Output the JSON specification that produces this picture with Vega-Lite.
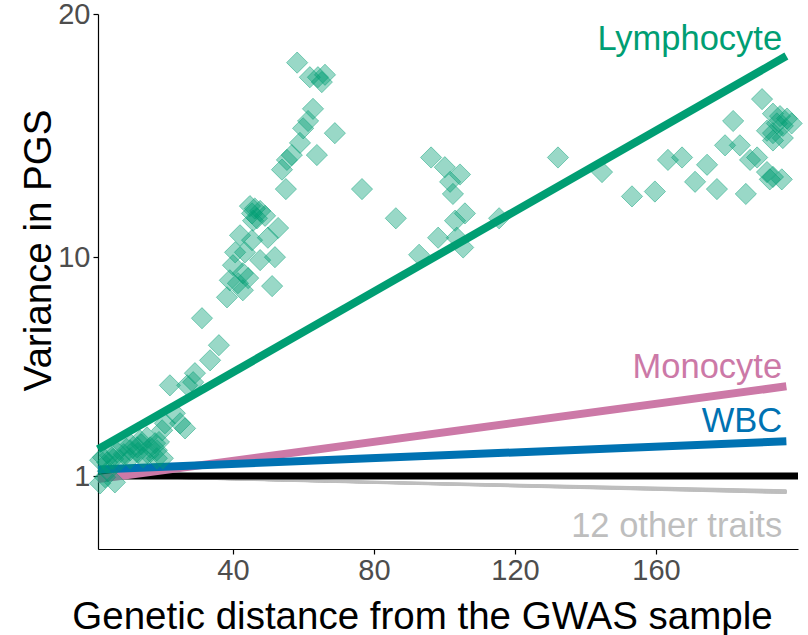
{
  "$schema": "https://vega.github.io/schema/vega-lite/v6.json",
  "width": 700,
  "height": 535,
  "autosize": "none",
  "padding": {"left": 98, "top": 14, "right": 10, "bottom": 86},
  "config": {"view": {"stroke": null}, "font": "Liberation Sans"},
  "datasets": {
    "points": [
      {"x":2.3,"y":0.70},{"x":6.5,"y":0.74},{"x":3.7,"y":0.95},{"x":2.3,"y":1.65},{"x":4.3,"y":1.56},{"x":3.1,"y":1.77},{"x":5.1,"y":1.85},{"x":7.1,"y":1.98},{"x":7.9,"y":1.65},{"x":8.8,"y":2.26},
      {"x":10.8,"y":2.06},{"x":10.8,"y":1.73},{"x":12.8,"y":2.18},{"x":13.6,"y":2.47},{"x":14.5,"y":1.77},{"x":15.6,"y":2.59},{"x":16.5,"y":2.18},{"x":17.9,"y":2.35},{"x":18.4,"y":2.06},{"x":18.4,"y":1.73},
      {"x":20.1,"y":1.73},{"x":19.9,"y":2.88},{"x":20.7,"y":3.17},{"x":23.5,"y":3.58},{"x":25.0,"y":3.17},{"x":26.4,"y":2.96},{"x":22.1,"y":4.73},{"x":27.0,"y":4.73},{"x":28.7,"y":4.86},{"x":29.2,"y":5.23},
      {"x":33.5,"y":5.76},{"x":36.0,"y":6.38},{"x":31.2,"y":7.49},{"x":38.3,"y":8.35},{"x":42.8,"y":8.64},{"x":41.4,"y":8.93},{"x":39.1,"y":9.05},{"x":44.3,"y":9.14},{"x":51.1,"y":8.81},{"x":42.8,"y":9.34},
      {"x":40.0,"y":9.67},{"x":47.7,"y":9.88},{"x":51.9,"y":10.0},{"x":40.6,"y":10.2},{"x":43.4,"y":10.2},{"x":42.0,"y":10.9},{"x":45.4,"y":10.7},{"x":49.9,"y":10.8},{"x":52.8,"y":11.2},{"x":45.7,"y":11.5},
      {"x":46.8,"y":11.6},{"x":49.1,"y":11.7},{"x":45.4,"y":11.8},{"x":47.7,"y":11.9},{"x":46.2,"y":12.0},{"x":44.8,"y":12.1},{"x":55.0,"y":12.8},{"x":53.9,"y":13.6},{"x":55.3,"y":14.0},{"x":56.7,"y":14.2},
      {"x":63.8,"y":14.2},{"x":59.0,"y":14.7},{"x":68.9,"y":15.1},{"x":59.9,"y":15.3},{"x":61.3,"y":15.6},{"x":62.7,"y":16.1},{"x":61.8,"y":17.4},{"x":64.1,"y":17.4},{"x":66.1,"y":17.5},{"x":65.2,"y":17.2},
      {"x":58.2,"y":18.0},{"x":76.6,"y":12.8},{"x":86.2,"y":11.6},{"x":92.8,"y":10.1},{"x":98.2,"y":10.8},{"x":103.5,"y":10.8},{"x":105.3,"y":10.4},{"x":103.0,"y":11.5},{"x":105.8,"y":11.8},{"x":115.5,"y":11.6},
      {"x":96.2,"y":14.1},{"x":100.1,"y":13.7},{"x":104.4,"y":13.4},{"x":101.6,"y":13.1},{"x":102.4,"y":12.6},{"x":132.2,"y":14.1},{"x":144.7,"y":13.5},{"x":153.2,"y":12.5},{"x":159.7,"y":12.7},{"x":163.4,"y":14.0},
      {"x":167.4,"y":14.1},{"x":171.1,"y":13.1},{"x":174.5,"y":13.8},{"x":177.3,"y":12.8},{"x":181.9,"y":15.6},{"x":179.6,"y":14.6},{"x":183.8,"y":14.6},{"x":186.7,"y":14.0},{"x":188.7,"y":14.1},{"x":185.5,"y":12.6},
      {"x":190.1,"y":16.5},{"x":193.2,"y":15.9},{"x":195.2,"y":15.8},{"x":197.2,"y":15.7},{"x":194.3,"y":15.5},{"x":191.5,"y":15.2},{"x":196.0,"y":15.4},{"x":198.5,"y":15.5},{"x":193.2,"y":15.1},{"x":196.0,"y":14.9},
      {"x":193.2,"y":14.8},{"x":191.5,"y":13.5},{"x":193.2,"y":13.3},{"x":195.7,"y":13.2},{"x":192.3,"y":13.2},
      {"x":4.5,"y":1.2},{"x":9.0,"y":1.9},{"x":13.0,"y":1.95},{"x":16.0,"y":1.9},{"x":19.0,"y":2.4},{"x":14.0,"y":2.3},{"x":11.0,"y":2.3},{"x":6.0,"y":1.7}
    ],
    "lines": [
      {"trait":"Lymphocyte","line":"Lymphocyte","x":1.7,"y":2.1},{"trait":"Lymphocyte","line":"Lymphocyte","x":197,"y":18.27},
      {"trait":"Monocyte","line":"Monocyte","x":1.7,"y":0.88},{"trait":"Monocyte","line":"Monocyte","x":197,"y":4.69},
      {"trait":"WBC","line":"WBC","x":1.7,"y":1.27},{"trait":"WBC","line":"WBC","x":197,"y":2.43},
      {"trait":"12 other traits","line":"o1","x":1.7,"y":1.0},{"trait":"12 other traits","line":"o1","x":197,"y":0.30},
      {"trait":"12 other traits","line":"o2","x":1.7,"y":1.0},{"trait":"12 other traits","line":"o2","x":197,"y":0.31},
      {"trait":"12 other traits","line":"o3","x":1.7,"y":1.0},{"trait":"12 other traits","line":"o3","x":197,"y":0.32},
      {"trait":"12 other traits","line":"o4","x":1.7,"y":1.0},{"trait":"12 other traits","line":"o4","x":197,"y":0.33},
      {"trait":"12 other traits","line":"o5","x":1.7,"y":1.0},{"trait":"12 other traits","line":"o5","x":197,"y":0.34},
      {"trait":"12 other traits","line":"o6","x":1.7,"y":1.0},{"trait":"12 other traits","line":"o6","x":197,"y":0.35},
      {"trait":"12 other traits","line":"o7","x":1.7,"y":1.0},{"trait":"12 other traits","line":"o7","x":197,"y":0.36},
      {"trait":"12 other traits","line":"o8","x":1.7,"y":1.0},{"trait":"12 other traits","line":"o8","x":197,"y":0.37},
      {"trait":"12 other traits","line":"o9","x":1.7,"y":1.0},{"trait":"12 other traits","line":"o9","x":197,"y":0.38},
      {"trait":"12 other traits","line":"o10","x":1.7,"y":1.0},{"trait":"12 other traits","line":"o10","x":197,"y":0.39},
      {"trait":"12 other traits","line":"o11","x":1.7,"y":1.0},{"trait":"12 other traits","line":"o11","x":197,"y":0.40},
      {"trait":"12 other traits","line":"o12","x":1.7,"y":1.0},{"trait":"12 other traits","line":"o12","x":197,"y":0.42}
    ],
    "labels": [
      {"trait":"Lymphocyte","x":195.8,"y":18.52},
      {"trait":"Monocyte","x":195.8,"y":5.02},
      {"trait":"WBC","x":195.8,"y":2.80},
      {"trait":"12 other traits","x":195.8,"y":-1.52}
    ]
  },
  "layer": [
    {
      "data": {"name": "lines"},
      "transform": [{"filter": "datum.trait === '12 other traits'"}],
      "mark": {"type": "line", "strokeWidth": 2},
      "encoding": {
        "x": {"field": "x", "type": "quantitative",
          "scale": {"domain": [1.7, 200.3], "nice": false, "zero": false},
          "axis": {"values": [40, 80, 120, 160], "title": "Genetic distance from the GWAS sample",
            "grid": false, "domainColor": "black", "domainWidth": 1.2, "tickColor": "black", "tickWidth": 1.2, "tickSize": 5,
            "labelFontSize": 29, "labelColor": "#4D4D4D", "labelPadding": 2,
            "titleFontSize": 38.5, "titleFontWeight": "normal", "titleColor": "black",
            "titleX": 324, "titleY": 79, "titleBaseline": "alphabetic", "titleAlign": "center"}},
        "y": {"field": "y", "type": "quantitative",
          "scale": {"domain": [-2, 20], "nice": false, "zero": false},
          "axis": {"values": [1, 10, 20], "title": "Variance in PGS",
            "grid": false, "domainColor": "black", "domainWidth": 1.2, "tickColor": "black", "tickWidth": 1.2, "tickSize": 5,
            "labelFontSize": 29, "labelColor": "#4D4D4D", "labelPadding": 3,
            "titleFontSize": 38.5, "titleFontWeight": "normal", "titleColor": "black",
            "titleX": -48, "titleY": 236, "titleBaseline": "alphabetic", "titleAlign": "center", "titleAngle": 270}},
        "color": {"field": "trait", "type": "nominal",
          "scale": {"domain": ["Lymphocyte", "Monocyte", "WBC", "12 other traits"], "range": ["#009E73", "#CC79A7", "#0072B2", "#BEBEBE"]},
          "legend": null},
        "detail": {"field": "line"}
      }
    },
    {
      "data": {"values": [{}]},
      "mark": {"type": "rule", "color": "black", "strokeWidth": 7},
      "encoding": {"y": {"datum": 1}}
    },
    {
      "data": {"name": "lines"},
      "transform": [{"filter": "datum.trait === 'Monocyte'"}],
      "mark": {"type": "line", "strokeWidth": 8},
      "encoding": {
        "x": {"field": "x", "type": "quantitative"},
        "y": {"field": "y", "type": "quantitative"},
        "color": {"field": "trait", "type": "nominal"}
      }
    },
    {
      "data": {"name": "lines"},
      "transform": [{"filter": "datum.trait === 'WBC'"}],
      "mark": {"type": "line", "strokeWidth": 8},
      "encoding": {
        "x": {"field": "x", "type": "quantitative"},
        "y": {"field": "y", "type": "quantitative"},
        "color": {"field": "trait", "type": "nominal"}
      }
    },
    {
      "data": {"name": "lines"},
      "transform": [{"filter": "datum.trait === 'Lymphocyte'"}],
      "mark": {"type": "line", "strokeWidth": 8},
      "encoding": {
        "x": {"field": "x", "type": "quantitative"},
        "y": {"field": "y", "type": "quantitative"},
        "color": {"field": "trait", "type": "nominal"}
      }
    },
    {
      "data": {"name": "points"},
      "mark": {"type": "point", "shape": "diamond", "filled": true, "size": 450, "fill": "#009E73", "fillOpacity": 0.4, "stroke": "#009E73", "strokeOpacity": 0.45, "strokeWidth": 1},
      "encoding": {
        "x": {"field": "x", "type": "quantitative"},
        "y": {"field": "y", "type": "quantitative"}
      }
    },
    {
      "data": {"name": "labels"},
      "mark": {"type": "text", "align": "right", "baseline": "alphabetic", "fontSize": 34.5},
      "encoding": {
        "x": {"field": "x", "type": "quantitative"},
        "y": {"field": "y", "type": "quantitative"},
        "text": {"field": "trait"},
        "color": {"field": "trait", "type": "nominal"}
      }
    }
  ]
}
